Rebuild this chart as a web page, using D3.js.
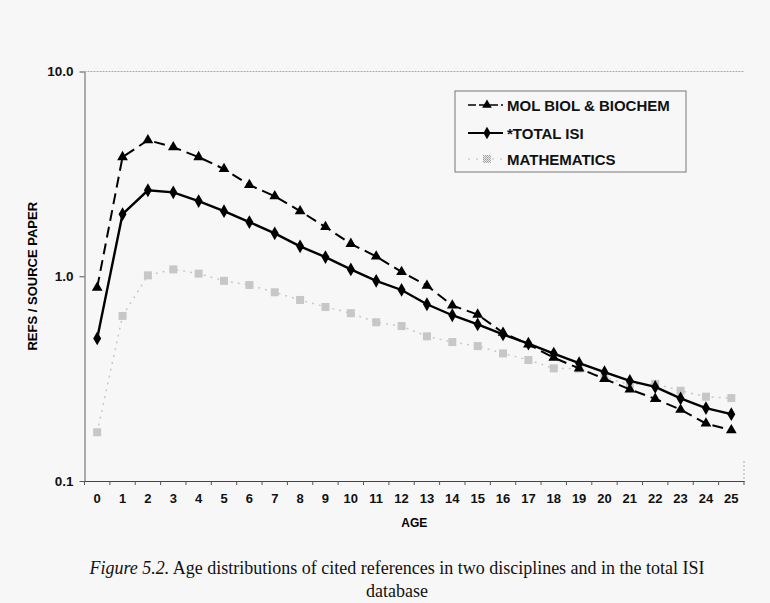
<!DOCTYPE html>
<html>
<head>
<meta charset="utf-8">
<script src="https://cdn.jsdelivr.net/npm/d3@7"></script>
<style>
  body { margin: 0; background: #f7f7f7; }
  svg { display: block; }
</style>
</head>
<body>
<div id="chart"></div>
<script>
// ages on the x axis
var ages = d3.range(0, 26);

// refs per source paper
var molBiol = [0.88, 3.82, 4.62, 4.27, 3.82, 3.34, 2.79, 2.46, 2.08, 1.74, 1.44, 1.25, 1.05,
               0.90, 0.72, 0.65, 0.53, 0.465, 0.40, 0.355, 0.315, 0.28, 0.252, 0.223, 0.191, 0.177];
var totalIsi = [0.497, 2.01, 2.63, 2.57, 2.33, 2.08, 1.84, 1.62, 1.40, 1.24, 1.08, 0.95, 0.857,
                0.73, 0.645, 0.582, 0.52, 0.469, 0.419, 0.376, 0.34, 0.308, 0.288, 0.253, 0.227, 0.212];
var mathematics = [0.173, 0.64, 1.01, 1.08, 1.03, 0.95, 0.906, 0.835, 0.766, 0.708, 0.66, 0.596, 0.571,
                   0.509, 0.477, 0.456, 0.42, 0.39, 0.355, 0.354, 0.32, 0.296, 0.298, 0.276, 0.258, 0.254];

var yTicks = [0.1, 1, 10];
var seriesNames = ["MOL BIOL & BIOCHEM", "*TOTAL ISI", "MATHEMATICS"];

var W = 770, H = 603;
var margin = {top: 71.5, right: 26, bottom: 122, left: 84.5},
    width = W - margin.left - margin.right,
    height = H - margin.top - margin.bottom;

var root = d3.select("#chart")
  .append("svg")
    .attr("width", W)
    .attr("height", H);

root.append("rect").attr("width", W).attr("height", H).attr("fill", "#f7f7f7");

// hatched fill for the mathematics markers
var pat = root.append("defs").append("pattern")
    .attr("id", "hatch")
    .attr("width", 2).attr("height", 2)
    .attr("patternUnits", "userSpaceOnUse");
pat.append("rect").attr("width", 2).attr("height", 2).attr("fill", "#e6e6e6");
pat.append("rect").attr("width", 1).attr("height", 1).attr("fill", "#9a9a9a");
pat.append("rect").attr("x", 1).attr("y", 1).attr("width", 1).attr("height", 1).attr("fill", "#b4b4b4");

var svg = root.append("g")
    .attr("transform", "translate(" + margin.left + "," + margin.top + ")");

var x = d3.scaleBand()
  .domain(ages)
  .range([0, width])
  .padding(0);

var y = d3.scaleLog()
  .domain([0.1, 10])
  .range([height, 0]);

function cx(d) { return x(d) + x.bandwidth() / 2; }

// top and right frame, faint dotted
svg.append("line")
  .attr("x1", 0).attr("x2", width).attr("y1", 0).attr("y2", 0)
  .attr("stroke", "#aaa").attr("stroke-width", 1).attr("stroke-dasharray", "2,1");
svg.append("line")
  .attr("x1", width).attr("x2", width).attr("y1", height - 20).attr("y2", height)
  .attr("stroke", "#aaa").attr("stroke-width", 1).attr("stroke-dasharray", "2,2");

// X axis
var xAxis = svg.append("g")
  .attr("transform", "translate(0," + height + ")")
  .call(d3.axisBottom(x).tickSize(0).tickPadding(13).tickSizeOuter(0));
xAxis.select(".domain").attr("stroke", "#444").attr("stroke-width", 1.2);
xAxis.selectAll("text")
  .attr("font-family", "Arial, 'Liberation Sans', sans-serif")
  .attr("font-weight", "bold")
  .attr("font-size", 13)
  .attr("fill", "#111");

// ticks between the categories
xAxis.selectAll(".sep")
  .data(ages.concat([null]))
  .enter().append("line")
    .attr("class", "sep")
    .attr("x1", function(d) { return d === null ? width : x(d); })
    .attr("x2", function(d) { return d === null ? width : x(d); })
    .attr("y1", 0).attr("y2", 4)
    .attr("stroke", "#555");

// Y axis
var yAxis = svg.append("g")
  .call(d3.axisLeft(y).tickValues(yTicks).tickFormat(d3.format(".1f")).tickSize(5).tickSizeOuter(0));
yAxis.select(".domain").attr("stroke", "#777").attr("stroke-width", 1.2);
yAxis.selectAll(".tick line").attr("stroke", "#555");
yAxis.selectAll("text")
  .attr("font-family", "Arial, 'Liberation Sans', sans-serif")
  .attr("font-weight", "bold")
  .attr("font-size", 13.5)
  .attr("fill", "#111")
  .attr("x", -11);

// axis titles
svg.append("text")
  .attr("x", width / 2).attr("y", height + 46)
  .attr("text-anchor", "middle")
  .attr("font-family", "Arial, 'Liberation Sans', sans-serif")
  .attr("font-weight", "bold").attr("font-size", 12)
  .text("AGE");

svg.append("text")
  .attr("transform", "translate(" + (-48) + "," + (height / 2) + ") rotate(-90)")
  .attr("text-anchor", "middle")
  .attr("font-family", "Arial, 'Liberation Sans', sans-serif")
  .attr("font-weight", "bold").attr("font-size", 13)
  .text("REFS / SOURCE PAPER");

var line = d3.line()
  .x(function(d, i) { return cx(ages[i]); })
  .y(function(d) { return y(d); });

// mathematics: light grey dotted line, hatched squares
svg.append("path")
  .datum(mathematics)
  .attr("d", line)
  .attr("fill", "none")
  .attr("stroke", "#c8c8c8")
  .attr("stroke-width", 1.5)
  .attr("stroke-dasharray", "2,5");
svg.selectAll(".mpt")
  .data(mathematics)
  .enter().append("rect")
    .attr("class", "mpt")
    .attr("x", function(d, i) { return cx(ages[i]) - 4; })
    .attr("y", function(d) { return y(d) - 4; })
    .attr("width", 8).attr("height", 8)
    .attr("fill", "url(#hatch)");

// total ISI: solid black line with diamonds
svg.append("path")
  .datum(totalIsi)
  .attr("d", line)
  .attr("fill", "none")
  .attr("stroke", "#000")
  .attr("stroke-width", 2.4);
svg.selectAll(".tpt")
  .data(totalIsi)
  .enter().append("path")
    .attr("class", "tpt")
    .attr("transform", function(d, i) { return "translate(" + cx(ages[i]) + "," + y(d) + ")"; })
    .attr("d", d3.symbol().type(d3.symbolDiamond).size(55))
    .attr("fill", "#000");

// mol biol: dashed black line with triangles
svg.append("path")
  .datum(molBiol)
  .attr("d", line)
  .attr("fill", "none")
  .attr("stroke", "#000")
  .attr("stroke-width", 2)
  .attr("stroke-dasharray", "11,6");
svg.selectAll(".bpt")
  .data(molBiol)
  .enter().append("path")
    .attr("class", "bpt")
    .attr("transform", function(d, i) { return "translate(" + cx(ages[i]) + "," + y(d) + ")"; })
    .attr("d", d3.symbol().type(d3.symbolTriangle).size(50))
    .attr("fill", "#000");

// legend
var lg = root.append("g").attr("transform", "translate(455,91)");
lg.append("rect")
  .attr("width", 231).attr("height", 81)
  .attr("fill", "#f7f7f7")
  .attr("stroke", "#777").attr("stroke-width", 1);

var rows = [14, 42, 68];
rows.forEach(function(ry, i) {
  var g = lg.append("g").attr("transform", "translate(0," + ry + ")");
  if (i === 0) {
    g.append("line").attr("x1", 13).attr("x2", 48).attr("stroke", "#000")
      .attr("stroke-width", 1.5).attr("stroke-dasharray", "8,3");
    g.append("path").attr("transform", "translate(32,0)")
      .attr("d", d3.symbol().type(d3.symbolTriangle).size(40)).attr("fill", "#000");
  } else if (i === 1) {
    g.append("line").attr("x1", 13).attr("x2", 48).attr("stroke", "#000").attr("stroke-width", 2);
    g.append("path").attr("transform", "translate(32,0)")
      .attr("d", d3.symbol().type(d3.symbolDiamond).size(45)).attr("fill", "#000");
  } else {
    g.append("line").attr("x1", 13).attr("x2", 48).attr("stroke", "#cfcfcf")
      .attr("stroke-width", 1.5).attr("stroke-dasharray", "2,6");
    g.append("rect").attr("x", 28).attr("y", -4).attr("width", 8).attr("height", 8)
      .attr("fill", "url(#hatch)");
  }
  g.append("text")
    .attr("x", 52).attr("y", 5.5)
    .attr("font-family", "Arial, 'Liberation Sans', sans-serif")
    .attr("font-weight", "bold").attr("font-size", 15)
    .attr("fill", "#111")
    .text(seriesNames[i]);
});

// figure caption
var cap = root.append("text")
  .attr("x", 397).attr("y", 574)
  .attr("text-anchor", "middle")
  .attr("font-family", "'Liberation Serif', 'Times New Roman', serif")
  .attr("font-size", 18)
  .attr("fill", "#111");
cap.append("tspan").attr("font-style", "italic").text("Figure 5.2.");
cap.append("tspan").text(" Age distributions of cited references in two disciplines and in the total ISI");
root.append("text")
  .attr("x", 397).attr("y", 597)
  .attr("text-anchor", "middle")
  .attr("font-family", "'Liberation Serif', 'Times New Roman', serif")
  .attr("font-size", 18)
  .attr("fill", "#111")
  .text("database");
</script>
</body>
</html>
